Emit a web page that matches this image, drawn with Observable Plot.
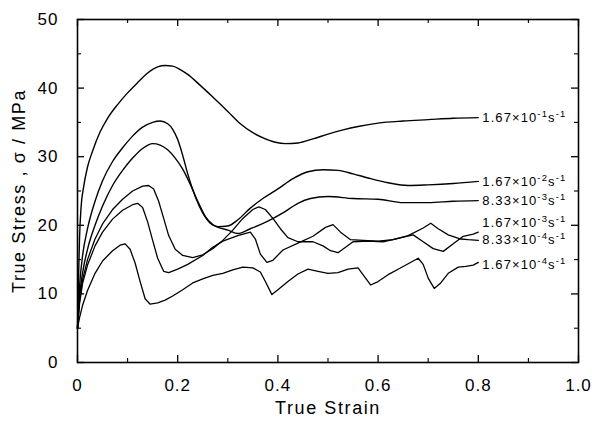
<!DOCTYPE html>
<html><head><meta charset="utf-8">
<script src="https://cdn.jsdelivr.net/npm/d3@7"></script>
<script src="https://cdn.jsdelivr.net/npm/@observablehq/plot@0.6"></script>
<style>
body{margin:0;background:#fff}
#chart svg{font-family:"Liberation Sans",Arial,Helvetica,sans-serif}
</style>
</head><body><div id="chart"></div>
<script>
// True strain / true stress (MPa), one array per strain rate
const rate167e1 = [[0,5],[0.002,12],[0.004,18],[0.007,22.5],[0.012,25.5],[0.02,28.5],[0.03,30.8],[0.045,33.6],[0.06,35.6],[0.08,37.6],[0.1,39.3],[0.12,40.8],[0.14,42.2],[0.16,43.1],[0.175,43.3],[0.19,43.2],[0.205,42.7],[0.22,42],[0.245,40.4],[0.27,38.7],[0.3,36.6],[0.325,34.8],[0.35,33.5],[0.375,32.6],[0.395,32.1],[0.415,31.9],[0.44,32],[0.47,32.6],[0.5,33.3],[0.53,33.9],[0.56,34.4],[0.6,34.9],[0.65,35.2],[0.7,35.4],[0.75,35.6],[0.8,35.7]];
const rate167e2 = [[0,5],[0.004,11],[0.01,15.5],[0.02,19.5],[0.035,23.5],[0.05,26.5],[0.07,29.3],[0.09,31.3],[0.11,33],[0.13,34.3],[0.15,35],[0.165,35.2],[0.18,34.8],[0.19,34],[0.2,32.5],[0.21,30.2],[0.22,27.5],[0.235,24.2],[0.25,21.8],[0.265,20.3],[0.28,19.8],[0.3,19.9],[0.32,20.8],[0.345,22.5],[0.37,23.9],[0.4,25.3],[0.43,26.8],[0.46,27.8],[0.49,28.1],[0.52,28],[0.55,27.5],[0.58,26.9],[0.62,26.2],[0.66,25.8],[0.7,25.9],[0.75,26.1],[0.8,26.4]];
const rate833e3 = [[0,5],[0.004,9.5],[0.01,13],[0.02,16.5],[0.035,20],[0.05,22.8],[0.07,25.8],[0.09,28],[0.11,29.8],[0.13,31.2],[0.15,31.9],[0.165,31.7],[0.18,31],[0.195,29.8],[0.21,28.2],[0.225,26],[0.24,23.5],[0.255,21.3],[0.27,20.1],[0.285,19.6],[0.3,19.3],[0.32,18.8],[0.345,19.5],[0.38,20.6],[0.41,21.8],[0.44,23.2],[0.465,23.9],[0.5,24.2],[0.55,23.9],[0.6,23.8],[0.65,23.3],[0.7,23.3],[0.75,23.5],[0.8,23.6]];
const rate167e3 = [[0,5],[0.004,9],[0.01,12],[0.02,15],[0.035,18],[0.05,20.2],[0.07,22.3],[0.09,23.8],[0.11,25],[0.13,25.7],[0.142,25.8],[0.152,25.3],[0.162,23.5],[0.172,21],[0.182,18.5],[0.195,16.5],[0.21,15.6],[0.23,15.3],[0.25,15.7],[0.27,16.6],[0.29,17.8],[0.31,19.3],[0.33,21],[0.35,22.3],[0.362,22.7],[0.375,22.3],[0.39,21],[0.405,19.5],[0.42,18.2],[0.44,17.6],[0.47,17.6],[0.49,17],[0.505,16.3],[0.52,16],[0.535,16.8],[0.55,17.6],[0.58,17.7],[0.61,17.6],[0.64,18.1],[0.67,18.6],[0.69,17.6],[0.71,16.6],[0.73,16.2],[0.75,17.3],[0.77,18.4],[0.79,18.7],[0.8,19]];
const rate833e4 = [[0,5],[0.004,8.5],[0.01,11.5],[0.02,14.2],[0.035,17],[0.05,19],[0.07,20.9],[0.09,22.2],[0.11,23],[0.12,23.2],[0.13,22.6],[0.14,20.5],[0.15,17.8],[0.16,15.2],[0.172,13.3],[0.182,13.1],[0.2,13.6],[0.22,14.3],[0.25,15.6],[0.27,16.8],[0.29,17.7],[0.32,18.5],[0.345,19],[0.355,18],[0.365,15.8],[0.378,14.6],[0.39,14.9],[0.41,16.4],[0.44,17.4],[0.47,18.4],[0.495,19.7],[0.51,20.1],[0.525,19],[0.545,17.9],[0.57,17.8],[0.6,17.7],[0.63,17.9],[0.66,18.5],[0.69,19.6],[0.705,20.3],[0.72,19.5],[0.74,18.6],[0.765,18],[0.78,17.9],[0.8,17.8]];
const rate167e4 = [[0,5],[0.004,6.5],[0.01,8.3],[0.02,10.5],[0.035,13],[0.05,14.8],[0.07,16.3],[0.085,17.1],[0.095,17.3],[0.105,16.5],[0.115,14.5],[0.125,11.8],[0.135,9.3],[0.145,8.5],[0.16,8.7],[0.175,9.1],[0.19,9.7],[0.21,10.6],[0.23,11.6],[0.25,12.2],[0.27,12.7],[0.29,13],[0.31,13.5],[0.33,13.9],[0.35,13.8],[0.365,13.2],[0.375,11.8],[0.388,9.9],[0.4,10.6],[0.42,11.8],[0.44,12.9],[0.46,13.6],[0.48,13.3],[0.5,13],[0.52,13.1],[0.54,13.6],[0.56,13.8],[0.572,12.6],[0.585,11.3],[0.6,11.8],[0.62,12.8],[0.64,13.6],[0.66,14.4],[0.68,15.2],[0.69,14.3],[0.7,12.3],[0.712,10.8],[0.725,11.6],[0.74,13],[0.76,13.9],[0.775,14],[0.79,14.2],[0.8,14.6]];

const labelMantissa = ["1.67","1.67","8.33","1.67","8.33","1.67"];
const labelExponent = ["-1","-2","-3","-3","-4","-4"];
const labelStress = [35.6, 26.4, 23.6, 20.4, 17.9, 14.3];

const xTicks = [0, 0.2, 0.4, 0.6, 0.8, 1.0];
const xMinor = [0.1, 0.3, 0.5, 0.7, 0.9];
const yTicks = [0, 10, 20, 30, 40, 50];
const yMinor = [5, 15, 25, 35, 45];

const W = 592, H = 421, mt = 19, mb = 59, ml = 77, mr = 14;
const ph = H - mt - mb, pw = W - ml - mr;

const series = [rate167e1, rate167e2, rate833e3, rate167e3, rate833e4, rate167e4];
const rows = series.flatMap((s, k) => s.map(([x, y]) => ({x, y, k})));
const labels = series.map((s, i) => ({x: s[s.length - 1][0], y: labelStress[i], m: labelMantissa[i], e: labelExponent[i]}));

const ink = "#000";
const plot = Plot.plot({
  width: W, height: H,
  marginTop: mt, marginBottom: mb, marginLeft: ml, marginRight: mr,
  style: {background: "#fff", color: ink, fontSize: "17px"},
  x: {domain: [0, 1]},
  y: {domain: [0, 50]},
  marks: [
    Plot.axisX({ticks: xTicks, tickSize: 0, tickPadding: 16, fontSize: 17,
      tickFormat: d => d === 0 ? "0" : d.toFixed(1),
      label: "True Strain", labelAnchor: "center", labelArrow: false, labelOffset: 51}),
    Plot.axisY({ticks: yTicks, tickSize: 0, tickPadding: 19, fontSize: 17,
      tickFormat: d => String(d),
      label: "True Stress , σ / MPa", labelAnchor: "center", labelArrow: false, labelOffset: 65}),
    Plot.ruleX(xTicks, {stroke: ink, strokeWidth: 1.3, insetTop: ph - 7}),
    Plot.ruleX(xTicks, {stroke: ink, strokeWidth: 1.3, insetBottom: ph - 7}),
    Plot.ruleX(xMinor, {stroke: ink, strokeWidth: 1.1, insetTop: ph - 4}),
    Plot.ruleX(xMinor, {stroke: ink, strokeWidth: 1.1, insetBottom: ph - 4}),
    Plot.ruleY(yTicks, {stroke: ink, strokeWidth: 1.3, insetRight: pw - 7}),
    Plot.ruleY(yTicks, {stroke: ink, strokeWidth: 1.3, insetLeft: pw - 7}),
    Plot.ruleY(yMinor, {stroke: ink, strokeWidth: 1.1, insetRight: pw - 4}),
    Plot.ruleY(yMinor, {stroke: ink, strokeWidth: 1.1, insetLeft: pw - 4}),
    Plot.line(rows.filter(d => d.k < 3), {x: "x", y: "y", z: "k", stroke: ink, strokeWidth: 1.4, curve: "monotone-x"}),
    Plot.line(rows.filter(d => d.k >= 3), {x: "x", y: "y", z: "k", stroke: ink, strokeWidth: 1.3, curve: "linear", strokeLinejoin: "round"}),
    Plot.text(labels, {x: "x", y: "y", text: d => `${d.m}×10${d.e}s-1`, textAnchor: "start", dx: 4, fontSize: 13, fill: ink}),
    Plot.frame({stroke: ink, strokeWidth: 1.6})
  ]
});

// Rebuild rate labels with superscript exponents; widen spacing of axis text
const NS = "http://www.w3.org/2000/svg";
let li = 0;
plot.querySelectorAll("text").forEach(t => {
  const content = t.textContent;
  if (content.includes("×10")) {
    const d = labels[li++];
    while (t.firstChild) t.removeChild(t.firstChild);
    const parts = [[`${d.m}×10`, 0, null], [d.e, -5, 9.5], ["s", 5, 13], ["-1", -5, 9.5]];
    for (const [txt, dy, fs] of parts) {
      const s = document.createElementNS(NS, "tspan");
      if (dy) s.setAttribute("dy", dy);
      if (fs) s.setAttribute("font-size", fs);
      s.textContent = txt;
      t.appendChild(s);
    }
    t.style.letterSpacing = "1.1px";
  } else if (content === "True Strain" || content.startsWith("True Stress")) {
    t.style.letterSpacing = "1.6px";
    t.setAttribute("font-size", 18);
    t.style.fontSize = "18px";
  } else {
    t.style.letterSpacing = "1px";
  }
});
document.getElementById("chart").appendChild(plot);
</script>
</body></html>
